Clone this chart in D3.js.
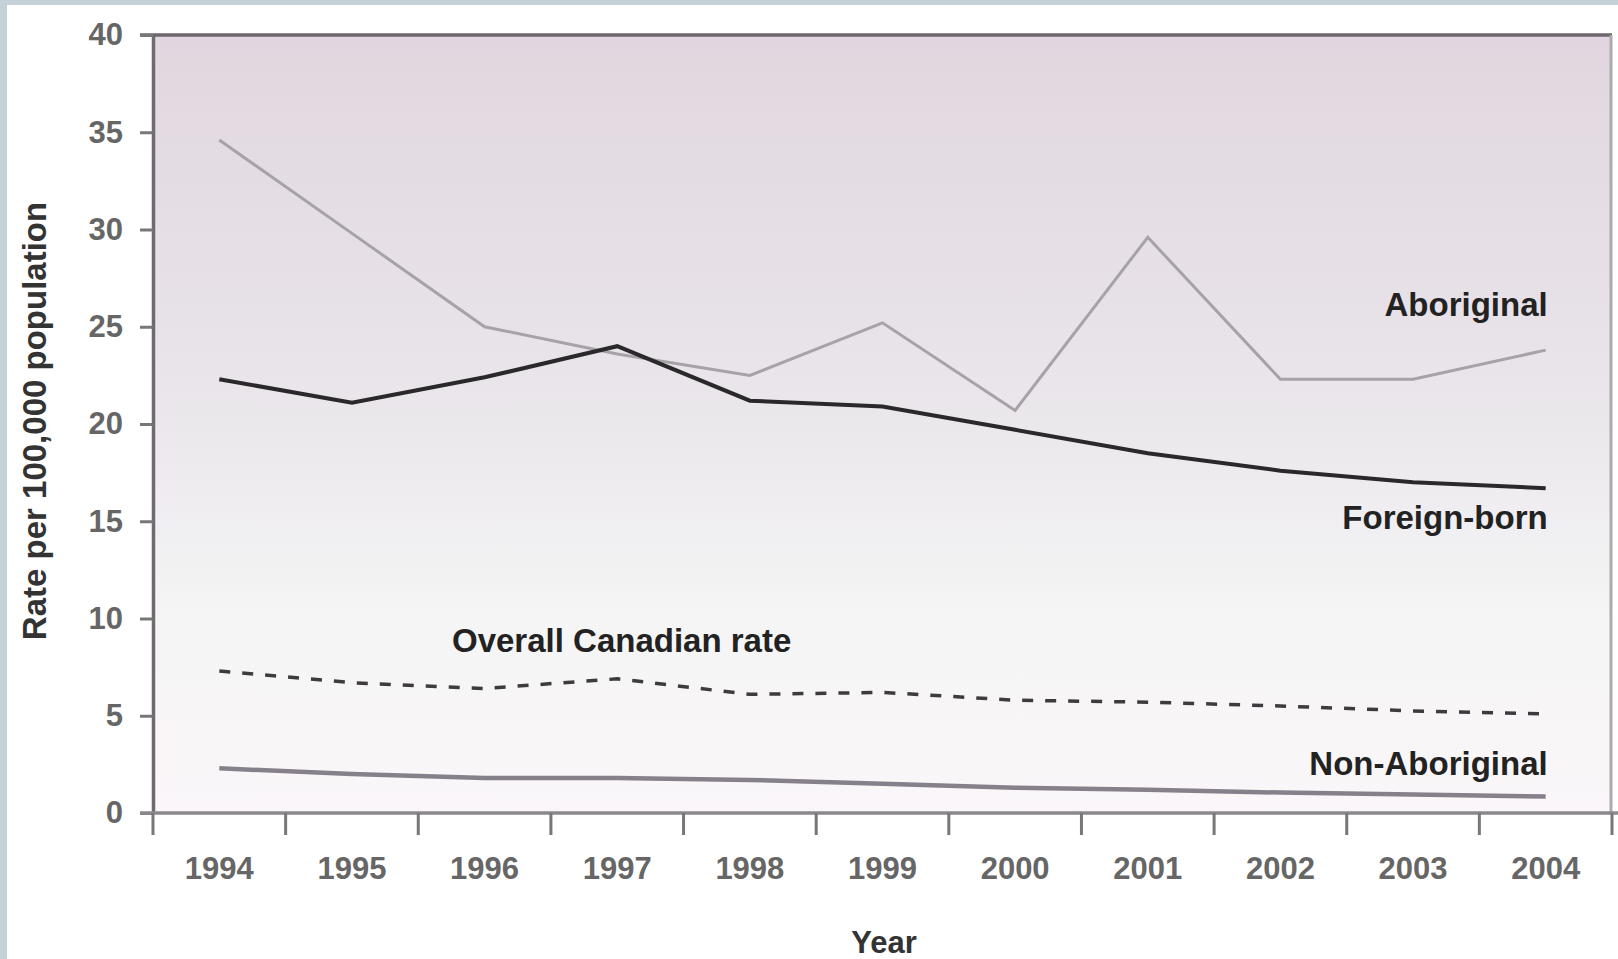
<!DOCTYPE html>
<html>
<head>
<meta charset="utf-8">
<script src="https://cdn.jsdelivr.net/npm/d3@7"></script>
<style>
  html, body { margin: 0; padding: 0; background: #fff; overflow: hidden; }
  svg { display: block; }
  text { font-family: "Liberation Sans", Arial, sans-serif; }
</style>
</head>
<body>
<svg id="chart" width="1618" height="959"></svg>
<script>
const years = ["1994","1995","1996","1997","1998","1999","2000","2001","2002","2003","2004"];
const aboriginal    = [34.6, 29.8, 25.0, 23.6, 22.5, 25.2, 20.7, 29.6, 22.3, 22.3, 23.8];
const foreignBorn   = [22.3, 21.1, 22.4, 24.0, 21.2, 20.9, 19.7, 18.5, 17.6, 17.0, 16.7];
const overallRate   = [7.3, 6.7, 6.4, 6.9, 6.1, 6.2, 5.8, 5.7, 5.5, 5.25, 5.1];
const nonAboriginal = [2.3, 2.0, 1.8, 1.8, 1.7, 1.5, 1.3, 1.2, 1.05, 0.95, 0.85];
const yTicks = [0, 5, 10, 15, 20, 25, 30, 35, 40];
const yTitle = "Rate per 100,000 population";
const xTitle = "Year";
const seriesLabels = ["Aboriginal", "Foreign-born", "Overall Canadian rate", "Non-Aboriginal"];

(function () {
const svg = d3.select("#chart");
const pL = 153, pR = 1612, pT = 35, pB = 813;

const x = d3.scaleBand().domain(years).range([pL, pR]);
const y = d3.scaleLinear().domain([0, 40]).range([pB, pT]);
const cx = d => x(d) + x.bandwidth() / 2;

// outer frame border
svg.append("rect").attr("x", 0).attr("y", 0).attr("width", 1618).attr("height", 5).attr("fill", "#c5d1d9");
svg.append("rect").attr("x", 0).attr("y", 0).attr("width", 7).attr("height", 959).attr("fill", "#c5d1d9");

// gradient background
const defs = svg.append("defs");
const grad = defs.append("linearGradient").attr("id", "bg").attr("x1", 0).attr("y1", 0).attr("x2", 0).attr("y2", 1);
grad.append("stop").attr("offset", "0%").attr("stop-color", "#e1d6df");
grad.append("stop").attr("offset", "45%").attr("stop-color", "#e9e5ea");
grad.append("stop").attr("offset", "75%").attr("stop-color", "#f5f5f5");
grad.append("stop").attr("offset", "100%").attr("stop-color", "#faf6f9");
svg.append("rect").attr("x", pL).attr("y", pT).attr("width", pR - pL).attr("height", pB - pT).attr("fill", "url(#bg)");

// frame top & right
svg.append("line").attr("x1", pL - 13).attr("x2", pR).attr("y1", y(40)).attr("y2", y(40))
  .attr("stroke", "#6d676c").attr("stroke-width", 3.5);
svg.append("line").attr("x1", pR - 1).attr("x2", pR - 1).attr("y1", y(40)).attr("y2", y(0))
  .attr("stroke", "#adaaad").attr("stroke-width", 3);

// y axis
const yAxis = svg.append("g").attr("transform", `translate(${pL},0)`)
  .call(d3.axisLeft(y).tickValues(yTicks).tickSize(13).tickPadding(17).tickSizeOuter(0));
yAxis.select(".domain").attr("stroke", "#6f6a6f").attr("stroke-width", 3.5);
yAxis.selectAll(".tick line").attr("stroke", "#777").attr("stroke-width", 3);
yAxis.selectAll(".tick text").attr("fill", "#666").attr("font-size", 31).attr("font-weight", "bold")
  .attr("font-family", "'Liberation Sans', Arial, sans-serif");

// x axis baseline
svg.append("line").attr("x1", pL - 13).attr("x2", pR + 6).attr("y1", y(0)).attr("y2", y(0))
  .attr("stroke", "#8b888b").attr("stroke-width", 3.5);
// x axis labels (band centres)
const xAxis = svg.append("g").attr("transform", `translate(0,${pB})`)
  .call(d3.axisBottom(x).tickSize(0).tickPadding(44));
xAxis.select(".domain").remove();
xAxis.selectAll(".tick text").attr("fill", "#666").attr("font-size", 31).attr("font-weight", "bold")
  .attr("font-family", "'Liberation Sans', Arial, sans-serif");
// x tick marks at band edges
const edges = years.map(d => x(d)).concat([x.range()[1]]);
svg.append("g").selectAll("line").data(edges).join("line")
  .attr("x1", d => d).attr("x2", d => d)
  .attr("y1", pB).attr("y2", pB + 22)
  .attr("stroke", "#777").attr("stroke-width", 3);

// lines
const line = d3.line().x((d, i) => cx(years[i])).y(d => y(d));
svg.append("path").datum(nonAboriginal).attr("d", line)
  .attr("fill", "none").attr("stroke", "#86808a").attr("stroke-width", 4.5);
svg.append("path").datum(overallRate).attr("d", line)
  .attr("fill", "none").attr("stroke", "#3e3b3e").attr("stroke-width", 3.5)
  .attr("stroke-dasharray", "11,12");
svg.append("path").datum(aboriginal).attr("d", line)
  .attr("fill", "none").attr("stroke", "#a7a2a8").attr("stroke-width", 3);
svg.append("path").datum(foreignBorn).attr("d", line)
  .attr("fill", "none").attr("stroke", "#2b282b").attr("stroke-width", 4);

// series labels
const lab = (t, xx, yy, anchor) => svg.append("text").text(t)
  .attr("x", xx).attr("y", yy).attr("text-anchor", anchor)
  .attr("font-size", 33).attr("font-weight", "bold").attr("fill", "#222");
const endX = cx(years[years.length - 1]);
lab(seriesLabels[0], endX + 2, 316, "end");
lab(seriesLabels[1], endX + 2, 529, "end");
lab(seriesLabels[2], 452, 652, "start");
lab(seriesLabels[3], endX + 2, 775, "end");

// axis titles
svg.append("text").text(yTitle)
  .attr("transform", "translate(46,421) rotate(-90)")
  .attr("text-anchor", "middle").attr("font-size", 33).attr("font-weight", "bold").attr("fill", "#333");
svg.append("text").text(xTitle)
  .attr("x", 884).attr("y", 953).attr("text-anchor", "middle")
  .attr("font-size", 31).attr("font-weight", "bold").attr("fill", "#333");
})();
</script>
</body>
</html>
